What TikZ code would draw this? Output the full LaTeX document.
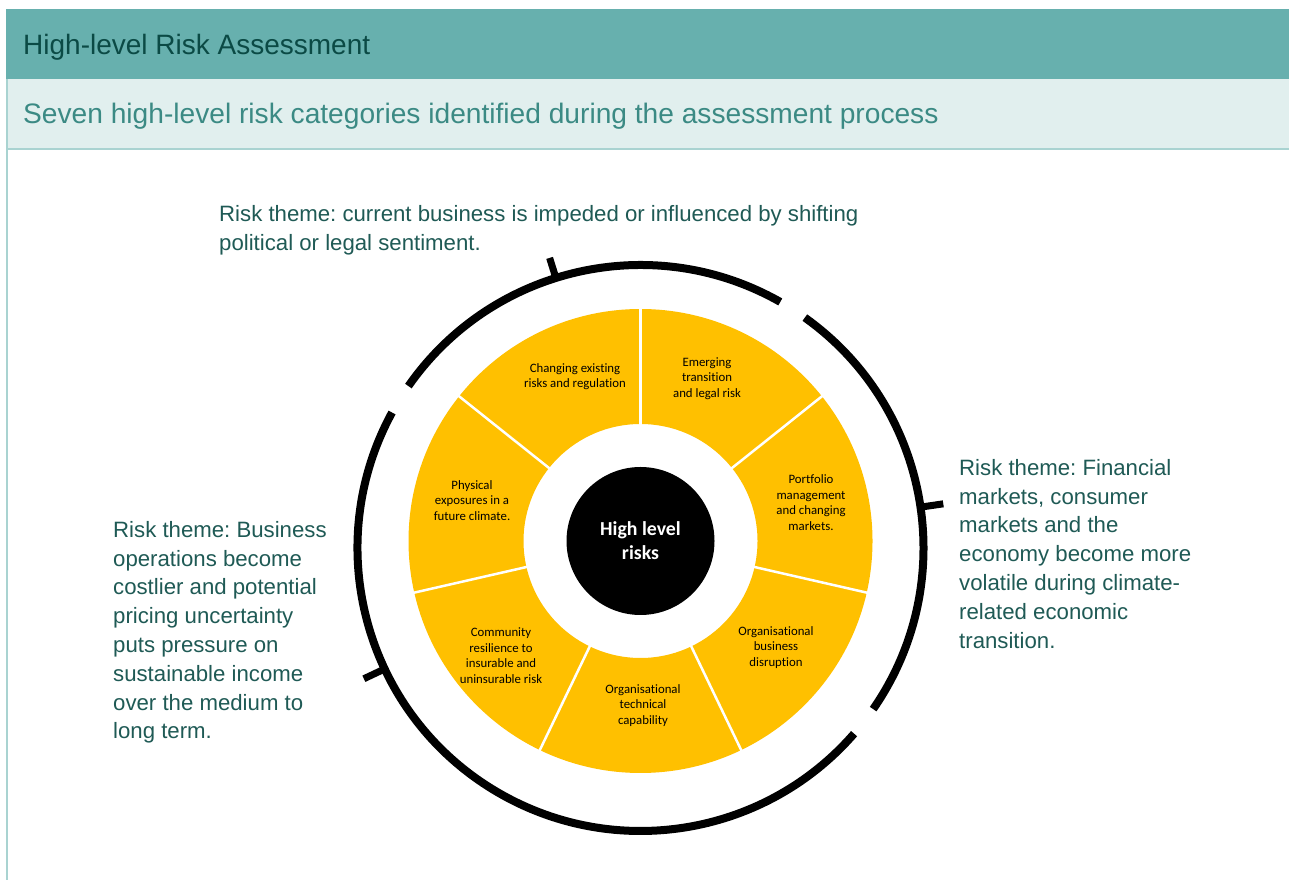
\documentclass[tikz,border=0pt]{standalone}
\usepackage{fontspec}
\setmainfont{Liberation Sans}
\newfontfamily\calib[Ligatures=NoCommon]{Carlito}
\definecolor{barteal}{HTML}{67B0AE}
\definecolor{bandteal}{HTML}{E1EFEE}
\definecolor{lineteal}{HTML}{A9D3D1}
\definecolor{titlecol}{HTML}{0B4A45}
\definecolor{subcol}{HTML}{3B8A84}
\definecolor{notecol}{HTML}{1F5A55}
\definecolor{gold}{HTML}{FFC000}
\frenchspacing
\begin{document}
\begin{tikzpicture}[x=1pt,y=1pt,
  segtext/.style={align=center, inner sep=0pt, text=black, font=\calib\fontsize{12.8}{15.5}\selectfont},
  notetext/.style={align=left, inner sep=0pt, anchor=north west, text=notecol, font=\fontsize{22.2}{28.8}\selectfont},
  ring/.style={line width=8pt, black},
  tick/.style={line width=7pt, black}]
\useasboundingbox (0,0) rectangle (1289,880);
\fill[white] (0,0) rectangle (1289,880);
% header
\fill[barteal] (6,870.5) rectangle (1289,800.5);
\fill[bandteal] (6,800.5) rectangle (1289,731.5);
\draw[lineteal, line width=2.5pt] (6,731) -- (1289,731);
\draw[lineteal, line width=2pt] (7,800.5) -- (7,0);
\node[anchor=base west, inner sep=0pt, text=titlecol, font=\fontsize{28}{34}\selectfont] (title) at (23,825.5) {High-level Risk Assessment};
\node[anchor=base west, inner sep=0pt, text=subcol, font=\fontsize{28.15}{34}\selectfont] (subtitle) at (23,756) {Seven high-level risk categories identified during the assessment process};
% wheel
\coordinate (C) at (640.5,339);
\fill[gold, even odd rule] (C) circle (232) (C) circle (117);
\begin{scope}[shift={(C)}]
  \foreach \k in {0,...,6} {
    \draw[white, line width=2.5pt] (90+\k*51.4286:115) -- (90+\k*51.4286:234);
  }
\end{scope}
\node[circle, fill=black, minimum size=148pt, inner sep=0pt, align=center, text=white, font=\calib\bfseries\fontsize{19.8}{24}\selectfont] (core) at (C) {High level\\risks};
% outer ring
\begin{scope}[shift={(640.5,332)}]
  \draw[ring] (60.4:283) arc[start angle=60.4, end angle=145.1, radius=283];
  \draw[ring] (151.4:283) arc[start angle=151.4, end angle=319, radius=283];
  \draw[ring] (-34.7:283) arc[start angle=-34.7, end angle=54.5, radius=283];
  \draw[tick] (107.4:283) -- (107.4:304);
  \draw[tick] (8.3:283) -- (8.3:306);
  \draw[tick] (205.3:283) -- (205.3:306);
\end{scope}
% segment labels
\node[segtext] (s1) at (575,503.5) {Changing existing\\risks and regulation};
\node[segtext] (s2) at (707,501.5) {Emerging\\transition\\and legal risk};
\node[segtext] (s3) at (811,377.5) {Portfolio\\management\\and changing\\markets.};
\node[segtext] (s4) at (776,232.5) {Organisational\\business\\disruption};
\node[segtext] (s5) at (643,174.5) {Organisational\\technical\\capability};
\node[segtext] (s6) at (501,224.5) {Community\\resilience to\\insurable and\\uninsurable risk};
\node[segtext] (s7) at (472,379.5) {Physical\\exposures in a\\future climate.};
% notes
\node[notetext] (ntop) at (219,675) {Risk theme: current business is impeded or influenced by shifting\\political or legal sentiment.};
\node[notetext] (nleft) at (113,359) {Risk theme: Business\\operations become\\costlier and potential\\pricing uncertainty\\puts pressure on\\sustainable income\\over the medium to\\long term.};
\node[notetext] (nright) at (959,421) {Risk theme: Financial\\markets, consumer\\markets and the\\economy become more\\volatile during climate-\\related economic\\transition.};
\end{tikzpicture}
\end{document}
